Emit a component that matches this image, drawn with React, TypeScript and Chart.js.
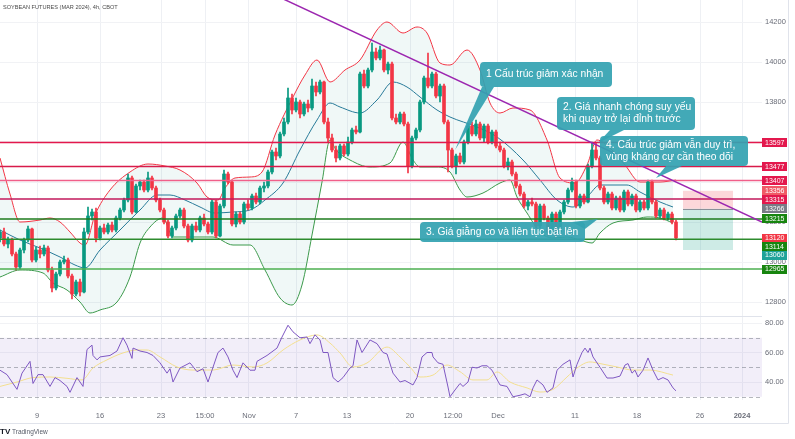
import React, { useEffect, useRef } from 'react';
import { Chart, registerables } from 'chart.js';

Chart.register(...registerables);

// Candles: [open, high, low, close], one per 4h bar (x = bar index)
const candlesOct: number[][] = [
  [13120, 13160, 13100, 13150], [13150, 13170, 13080, 13090], [13090, 13125, 13070, 13110], [13110, 13120, 13030, 13040],
  [13040, 13050, 12960, 12975], [12975, 13070, 12965, 13060], [13060, 13120, 13045, 13110], [13110, 13180, 13100, 13165],
  [13165, 13170, 13000, 13010], [13010, 13075, 13000, 13060], [13060, 13080, 13020, 13040], [13040, 13085, 13030, 13070],
  [13070, 13080, 12950, 12960], [12960, 12975, 12850, 12870], [12870, 12950, 12860, 12940], [12940, 13010, 12930, 13000],
  [13000, 13030, 12990, 13010], [13010, 13020, 12920, 12930], [12930, 12940, 12815, 12840], [12840, 12910, 12830, 12900],
  [12900, 12915, 12830, 12850], [12850, 13170, 12845, 13150], [13150, 13275, 13140, 13230], [13230, 13265, 13210, 13250],
  [13250, 13270, 13100, 13120], [13120, 13180, 13110, 13170], [13170, 13190, 13140, 13150], [13150, 13195, 13140, 13185],
  [13185, 13200, 13150, 13160], [13160, 13230, 13150, 13220], [13220, 13270, 13210, 13260], [13260, 13320, 13250, 13310],
  [13310, 13440, 13300, 13420], [13420, 13430, 13240, 13250], [13250, 13390, 13245, 13380], [13380, 13410, 13360, 13400],
  [13400, 13410, 13350, 13360], [13360, 13450, 13350, 13420], [13420, 13430, 13360, 13370], [13370, 13380, 13300, 13310],
  [13310, 13320, 13250, 13260], [13260, 13270, 13190, 13200], [13200, 13210, 13120, 13130], [13130, 13180, 13120, 13170],
  [13170, 13240, 13160, 13230], [13230, 13270, 13220, 13260], [13260, 13270, 13170, 13180], [13180, 13190, 13100, 13110],
  [13110, 13190, 13100, 13180], [13180, 13200, 13150, 13160], [13160, 13230, 13150, 13220], [13220, 13240, 13180, 13190],
  [13190, 13200, 13140, 13150], [13150, 13310, 13140, 13300], [13300, 13310, 13120, 13130], [13130, 13290, 13125, 13280],
  [13280, 13460, 13270, 13440], [13440, 13450, 13390, 13400], [13400, 13410, 13180, 13190], [13190, 13250, 13175, 13240],
  [13240, 13250, 13190, 13200], [13200, 13300, 13190, 13290],
];
const candlesNov: number[][] = [
  [13290, 13310, 13260, 13270], [13270, 13340, 13260, 13330], [13330, 13345, 13290, 13300], [13300, 13380, 13290, 13370],
  [13370, 13400, 13350, 13380], [13380, 13460, 13370, 13450], [13450, 13560, 13440, 13550], [13550, 13570, 13510, 13530],
  [13530, 13650, 13520, 13640], [13640, 13720, 13630, 13700], [13700, 13870, 13690, 13820], [13820, 13840, 13740, 13760],
  [13760, 13820, 13750, 13800], [13800, 13810, 13720, 13740], [13740, 13800, 13730, 13790], [13790, 13810, 13750, 13770],
  [13770, 13915, 13760, 13880], [13880, 13900, 13830, 13850], [13850, 13910, 13840, 13900], [13900, 13905, 13690, 13700],
  [13700, 13720, 13600, 13620], [13620, 13640, 13550, 13560], [13560, 13580, 13500, 13520], [13520, 13590, 13510, 13580],
  [13580, 13590, 13530, 13540], [13540, 13625, 13530, 13600], [13600, 13670, 13590, 13660], [13660, 13680, 13640, 13650],
  [13650, 13950, 13645, 13940], [13940, 13960, 13870, 13880], [13880, 13970, 13870, 13960], [13960, 14095, 13950, 14050],
  [14050, 14070, 14010, 14020], [14020, 14080, 14010, 14060], [14060, 14065, 13950, 13960], [13960, 14000, 13940, 13990],
  [13990, 14000, 13710, 13720], [13720, 13740, 13690, 13700], [13700, 13750, 13690, 13740], [13740, 13750, 13680, 13690],
  [13690, 13700, 13445, 13480], [13480, 13630, 13470, 13620], [13620, 13670, 13610, 13660], [13660, 13810, 13650, 13800],
  [13800, 13930, 13790, 13920], [13920, 14045, 13870, 13880], [13880, 13950, 13870, 13940], [13940, 13950, 13820, 13830],
  [13830, 13890, 13800, 13880], [13880, 13890, 13690, 13700], [13700, 13710, 13450, 13560], [13560, 13570, 13470, 13480],
  [13480, 13540, 13440, 13530], [13530, 13545, 13490, 13500], [13500, 13610, 13490, 13600], [13600, 13690, 13590, 13680],
  [13680, 13700, 13630, 13640], [13640, 13710, 13630, 13690], [13690, 13700, 13610, 13620], [13620, 13690, 13600, 13680],
  [13680, 13690, 13590, 13600], [13600, 13660, 13590, 13650], [13650, 13660, 13570, 13580],
];
const candlesDec: number[][] = [
  [13580, 13600, 13550, 13560], [13560, 13570, 13470, 13480], [13480, 13520, 13460, 13500], [13500, 13510, 13430, 13440],
  [13440, 13450, 13370, 13380], [13380, 13390, 13330, 13340], [13340, 13350, 13270, 13280], [13280, 13310, 13260, 13300],
  [13300, 13320, 13280, 13290], [13290, 13300, 13170, 13180], [13180, 13290, 13170, 13280], [13280, 13290, 13210, 13220],
  [13220, 13230, 13130, 13150], [13150, 13250, 13140, 13240], [13240, 13250, 13125, 13150], [13150, 13260, 13140, 13250],
  [13250, 13310, 13240, 13300], [13300, 13370, 13290, 13360], [13360, 13420, 13350, 13400], [13400, 13410, 13270, 13280],
  [13280, 13340, 13270, 13330], [13330, 13340, 13290, 13300], [13300, 13490, 13295, 13480], [13480, 13600, 13470, 13560],
  [13560, 13595, 13510, 13520], [13520, 13530, 13360, 13370], [13370, 13380, 13290, 13300], [13300, 13350, 13290, 13340],
  [13340, 13350, 13260, 13270], [13270, 13330, 13260, 13320], [13320, 13330, 13250, 13260], [13260, 13360, 13250, 13350],
  [13350, 13360, 13280, 13290], [13290, 13340, 13280, 13330], [13330, 13340, 13250, 13260], [13260, 13310, 13250, 13300],
  [13300, 13310, 13260, 13270], [13270, 13410, 13260, 13400], [13400, 13410, 13290, 13300], [13300, 13310, 13220, 13230],
  [13230, 13270, 13220, 13260], [13260, 13270, 13210, 13220], [13220, 13250, 13210, 13240], [13240, 13250, 13190, 13200],
  [13200, 13210, 13110, 13120],
];

// Bollinger bands: [bar index, price]
const bbUpper: number[][] = [
  [0, 13520], [2.5, 13340], [5, 13200], [10, 13210], [12.5, 13220], [15, 13200], [17.5, 13150], [20, 13095], [21.25, 13085],
  [23.75, 13235], [27.5, 13360], [32.5, 13450], [37, 13490], [41.25, 13480], [45, 13460], [49.25, 13395], [51.75, 13325],
  [54.5, 13310], [56.25, 13370], [58.75, 13420], [62.5, 13425], [65.5, 13450], [68.75, 13635], [73.25, 13825], [76.25, 13935],
  [79.25, 14010], [82.5, 13900], [86.25, 13960], [90, 14010], [94.25, 14160], [96.75, 14200], [100.75, 14145], [104.25, 14175],
  [106.75, 14145], [110, 13995], [112.5, 13985], [116.75, 14060], [120, 13960], [122.5, 13795], [125, 13745], [128.25, 13770],
  [132.5, 13760], [136.75, 13610], [140, 13420], [143.75, 13395], [146.75, 13485], [149.25, 13610], [152.5, 13570],
  [156.25, 13485], [160, 13400], [165, 13400], [169, 13410],
];
const bbMiddle: number[][] = [
  [0, 13160], [5, 13110], [10, 13070], [15, 13025], [18.75, 12985], [21.25, 12970], [25, 13060], [30, 13160], [35, 13260],
  [39.25, 13335], [42.5, 13335], [46.25, 13310], [50, 13275], [53.75, 13245], [58.25, 13250], [62.5, 13260], [66.25, 13310],
  [70.75, 13395], [75, 13560], [79.25, 13710], [82.5, 13795], [85, 13775], [90, 13745], [94.25, 13810], [98.25, 13900],
  [101.75, 13875], [105, 13825], [109.25, 13760], [112.5, 13725], [119.25, 13675], [124.25, 13625], [130.75, 13510],
  [135, 13410], [139.25, 13310], [143.25, 13275], [146.75, 13325], [150, 13385], [156.75, 13385], [160, 13350],
  [165, 13300], [168.25, 13275],
];
const bbLower: number[][] = [
  [0, 12925], [5, 12960], [10.75, 12945], [13.25, 12895], [16.75, 12860], [20, 12800], [22.5, 12745], [25, 12760],
  [29.25, 12800], [32.5, 12925], [35, 13095], [37.5, 13175], [40.75, 13220], [43.25, 13125], [48.25, 13125], [53.25, 13125],
  [58.25, 13085], [62.5, 13085], [66.25, 12960], [70, 12820], [73, 12785], [75.5, 12885], [78, 13135], [80.5, 13400],
  [82.5, 13610], [84, 13560], [87.5, 13510], [92.5, 13475], [97.5, 13495], [100.75, 13600], [103.25, 13510], [105, 13475],
  [109.25, 13475], [112.5, 13450], [115, 13360], [116.75, 13325], [120.75, 13345], [125, 13395], [127.5, 13410],
  [129.25, 13325], [131.75, 13245], [135, 13150], [138.25, 13120], [141.75, 13125], [145, 13110], [148, 13095],
  [150, 13145], [153.25, 13195], [158.25, 13210], [161.75, 13225], [165, 13220], [168.25, 13195],
];

// RSI and its moving average: [bar index, value]
const rsiLine: number[][] = [
  [0, 48], [1.75, 45], [4.25, 35], [5.5, 46], [7.5, 54], [8.25, 39], [9.5, 45], [10.75, 45], [12.5, 37], [13.75, 43],
  [15, 41], [16.75, 37], [17.5, 33], [19.25, 43], [20, 40], [20.75, 37], [21.75, 62], [23, 65], [23.25, 58], [24.25, 55],
  [25, 57], [27.5, 58], [29.25, 61], [30.75, 70], [31.75, 65], [33, 56], [33.25, 63], [35, 61], [36.75, 60], [38.25, 58],
  [40, 53], [41.75, 46], [42.5, 49], [43.25, 40], [45, 49.5], [47.5, 53], [49.25, 47], [50.75, 49], [52, 40], [53.25, 50],
  [54.5, 60], [55.75, 63], [57, 57], [58.25, 48], [59.25, 43], [60.75, 53], [62.5, 48], [63.75, 48], [64.25, 54],
  [66.75, 58], [69.25, 63], [70.5, 70.5], [72, 78.5], [73.25, 74], [75, 70], [76.75, 70.5], [77.5, 66], [78.75, 72],
  [80, 68.5], [80.75, 60], [82, 60], [83.25, 43], [84.5, 40], [85.75, 43], [87.5, 49.5], [88.25, 51], [89.25, 68.5],
  [90.5, 60], [92.5, 68.5], [94.25, 66], [95.75, 60], [96.75, 59], [98.25, 46], [100, 40], [101.25, 41], [103.25, 38],
  [104.25, 43], [105.5, 57], [106.75, 60], [108, 60], [108.25, 57], [109.5, 53], [110.75, 52], [112, 36.6], [112.5, 30],
  [113.75, 34.6], [115, 39], [115.75, 37], [117, 40], [118, 50], [119.25, 49.5], [120.5, 51], [121.75, 51], [123, 48],
  [125, 38], [126.75, 37], [128.25, 30], [130, 31], [131.25, 32], [132.5, 30], [133.25, 36], [134.25, 41.4], [135.75, 38],
  [136.75, 33], [138.25, 36], [139.25, 48], [140.75, 52], [142.5, 55], [143.25, 43.4], [144.25, 52], [145.5, 60],
  [146.25, 63], [147, 60], [147.5, 63], [148.25, 57], [150, 50], [151.75, 42.7], [153.25, 42.7], [155, 44], [156.25, 51.5],
  [157, 52.5], [158, 46], [158.75, 48], [159.5, 43.4], [160.75, 48], [162, 56.3], [163.25, 48], [164.5, 41.4], [165.75, 43],
  [167, 41.4], [168.25, 36], [169, 34],
];
const rsiMa: number[][] = [
  [0, 37], [4.25, 40], [8.25, 43], [12.5, 43.4], [16.75, 42.5], [20.5, 41.4], [23.25, 49.5], [26.75, 55], [30.75, 59.7],
  [34.25, 61.7], [36.75, 61.7], [40, 57], [44.25, 50.2], [48.25, 48.1], [53.25, 48.1], [58.25, 51.5], [63.25, 50.2],
  [66.75, 52.9], [70.75, 61.7], [75, 68.5], [79.25, 71.9], [82.5, 66.4], [85, 59.7], [88.25, 50.2], [91.75, 52.9],
  [96.75, 63.7], [100, 57], [102.5, 50.2], [105, 43.4], [108.25, 44.7], [111.75, 51.5], [115, 47], [118.25, 41.4],
  [121.75, 41.4], [124.25, 46.8], [127.5, 40], [131.75, 36], [135, 33.2], [138.25, 35], [141.75, 43.4], [144.25, 49.5],
  [147.5, 53.6], [150, 52.5], [154.25, 50.2], [158.25, 48.1], [162.5, 48.1], [168.25, 44.7],
];

// Axes
const xTickPos = [9.25, 25, 40.25, 51.25, 62.25, 74, 86.75, 102.5, 113.25, 124.5, 143.75, 159.25, 175, 185.5];
const xTickLabels = ['9', '16', '23', '15:00', 'Nov', '7', '13', '20', '12:00', 'Dec', '11', '18', '26', '2024'];
const priceTicks = [12800, 12900, 13000, 13100, 13200, 13300, 13400, 13500, 13600, 13700, 13800, 13900, 14000, 14100, 14200, 14300];
const rsiTicks = [40, 60, 80];
const rsiBands = [70, 50, 30];

// Drawn levels
const levelValues = [13597, 13477, 13407, 13315, 13215, 13114, 12965];
const levelColors = ['#e3184d', '#d81b4a', '#f0608a', '#c2185b', '#1e7b1e', '#2e8b2e', '#4caf50'];
const trendLine: number[][] = [[66, 14360], [190.5, 13200]];

// Axis price tags
const tagValues = [13597, 13477, 13407, 13356, 13315, 13266, 13215, 13120, 13114, 13060, 12965];
const tagColors = ['#e3184d', '#e3184d', '#e3184d', '#f05a66', '#e3184d', '#787b86', '#17850f', '#f23645', '#17850f', '#1fa39a', '#17850f'];

// Position tool (stop / entry / target) and its bar span
const posSpan = [170.75, 183.25];
const posStop = 13356;
const posEntry = 13266;
const posTarget = 13060;

// Callouts
const notes = [
  { x0: 120, x1: 153, top: 14000, bottom: 13875, lines: ['1 Cấu trúc giảm xác nhận'], tip: [[120.5, 13875], [123.5, 13875], [113.75, 13560]] },
  { x0: 139.25, x1: 173.75, top: 13825, bottom: 13660, lines: ['2. Giá nhanh chóng suy yếu', 'khi quay trở lại đỉnh trước'], tip: [[152.5, 13660], [156, 13660], [149.5, 13595]] },
  { x0: 105, x1: 146.25, top: 13200, bottom: 13100, lines: ['3. Giá giằng co và liên tục bật lên'], tip: [[143, 13200], [146.25, 13165], [149.5, 13215]] },
  { x0: 150, x1: 187, top: 13630, bottom: 13480, lines: ['4. Cấu trúc giảm vẫn duy trì,', 'vùng kháng cự cần theo dõi'], tip: [[166.5, 13480], [170.5, 13480], [164, 13420]] },
];

const FONT = "'Liberation Sans', Arial, sans-serif";
const UP = '#089981';
const DOWN = '#f23645';
const NOTE = 'rgba(52,163,178,0.93)';

const pts = (arr: number[][]) => arr.map(([x, y]) => ({ x, y }));

function rr(ctx: CanvasRenderingContext2D, x: number, y: number, w: number, h: number, r: number) {
  ctx.beginPath();
  ctx.moveTo(x + r, y);
  ctx.lineTo(x + w - r, y);
  ctx.quadraticCurveTo(x + w, y, x + w, y + r);
  ctx.lineTo(x + w, y + h - r);
  ctx.quadraticCurveTo(x + w, y + h, x + w - r, y + h);
  ctx.lineTo(x + r, y + h);
  ctx.quadraticCurveTo(x, y + h, x, y + h - r);
  ctx.lineTo(x, y + r);
  ctx.quadraticCurveTo(x, y, x + r, y);
  ctx.closePath();
}

const overlay = {
  id: 'overlay',
  beforeDatasetsDraw(chart: any) {
    const { ctx, chartArea: ca, scales } = chart;
    const x = scales.x, y = scales.y, r = scales.rsi;
    ctx.save();
    // RSI band
    const yt = r.getPixelForValue(70), yb = r.getPixelForValue(30);
    ctx.fillStyle = 'rgba(126,87,194,0.1)';
    ctx.fillRect(ca.left, yt, ca.right - ca.left, yb - yt);
    ctx.setLineDash([4, 3]);
    ctx.strokeStyle = 'rgba(120,123,134,0.55)';
    ctx.lineWidth = 1;
    for (const v of rsiBands) {
      const py = Math.round(r.getPixelForValue(v)) + 0.5;
      ctx.beginPath(); ctx.moveTo(ca.left, py); ctx.lineTo(ca.right, py); ctx.stroke();
    }
    ctx.setLineDash([]);
    // pane separator
    ctx.strokeStyle = '#e0e3eb';
    const sy = Math.round(r.top) + 0.5;
    ctx.beginPath(); ctx.moveTo(ca.left, sy); ctx.lineTo(ca.right, sy); ctx.stroke();
    // position tool
    const px0 = x.getPixelForValue(posSpan[0]), px1 = x.getPixelForValue(posSpan[1]);
    const ys = y.getPixelForValue(posStop), ye = y.getPixelForValue(posEntry), yg = y.getPixelForValue(posTarget);
    ctx.fillStyle = 'rgba(242,54,69,0.2)';
    ctx.fillRect(px0, ys, px1 - px0, ye - ys);
    ctx.fillStyle = 'rgba(8,153,129,0.2)';
    ctx.fillRect(px0, ye, px1 - px0, yg - ye);
    ctx.strokeStyle = 'rgba(120,123,134,0.8)';
    ctx.beginPath(); ctx.moveTo(px0, Math.round(ye) + 0.5); ctx.lineTo(px1, Math.round(ye) + 0.5); ctx.stroke();
    ctx.restore();
  },
  afterDatasetsDraw(chart: any) {
    const { ctx, scales } = chart;
    const x = scales.x, y = scales.y;
    ctx.save();
    for (const n of notes) {
      const l = x.getPixelForValue(n.x0), rgt = x.getPixelForValue(n.x1);
      const t = y.getPixelForValue(n.top), b = y.getPixelForValue(n.bottom);
      ctx.fillStyle = NOTE;
      ctx.beginPath();
      n.tip.forEach(([a, v], k) => {
        const px = x.getPixelForValue(a), py = y.getPixelForValue(v);
        if (k) ctx.lineTo(px, py); else ctx.moveTo(px, py);
      });
      ctx.closePath();
      ctx.fill();
      rr(ctx, l, t, rgt - l, b - t, 4);
      ctx.fill();
      ctx.fillStyle = '#ffffff';
      ctx.font = `10.3px ${FONT}`;
      ctx.textBaseline = 'middle';
      ctx.textAlign = 'left';
      const cy = (t + b) / 2;
      n.lines.forEach((s, k) => {
        ctx.fillText(s, l + 6, cy + (k - (n.lines.length - 1) / 2) * 12);
      });
    }
    ctx.restore();
  },
  afterDraw(chart: any) {
    const { ctx, chartArea: ca, scales } = chart;
    const y = scales.y;
    ctx.save();
    // price tags on the axis
    const items = tagValues.map((v, i) => ({ v, i, py: y.getPixelForValue(v) })).sort((a, b) => a.py - b.py);
    let prev = -Infinity;
    for (const it of items) {
      if (it.py < prev + 8.5) it.py = prev + 8.5;
      prev = it.py;
    }
    ctx.font = `7px ${FONT}`;
    ctx.textBaseline = 'middle';
    ctx.textAlign = 'left';
    for (const it of items) {
      ctx.fillStyle = tagColors[it.i];
      ctx.fillRect(ca.right, Math.round(it.py - 4.5), 25, 9);
      ctx.fillStyle = '#ffffff';
      ctx.fillText(String(it.v), ca.right + 3, it.py + 0.5);
    }
    // frame
    ctx.strokeStyle = '#e0e3eb';
    ctx.lineWidth = 1;
    ctx.beginPath();
    ctx.moveTo(788.5, 0); ctx.lineTo(788.5, 423.5); ctx.lineTo(0, 423.5);
    ctx.stroke();
    // title
    ctx.fillStyle = '#4a4a4a';
    ctx.font = `5.6px ${FONT}`;
    ctx.fillText('SOYBEAN FUTURES (MAR 2024), 4h, CBOT', 3, 7);
    // logo
    ctx.fillStyle = '#131722';
    ctx.font = `bold 8px ${FONT}`;
    ctx.fillText('TV', 0, 432);
    ctx.fillStyle = '#555a66';
    ctx.font = `6.5px ${FONT}`;
    ctx.fillText('TradingView', 12, 432);
    ctx.restore();
  },
};

const noPad = (s: any) => { s.paddingTop = 0; s.paddingBottom = 0; s.paddingLeft = 0; s.paddingRight = 0; };

export default function App() {
  const ref = useRef<HTMLCanvasElement>(null);
  useEffect(() => {
    document.body.style.margin = '0';
    const candles = [...candlesOct, ...candlesNov, ...candlesDec];
    const colors = candles.map((c) => (c[3] >= c[0] ? UP : DOWN));
    const lineBase = { type: 'line', pointRadius: 0, borderWidth: 1, fill: false, yAxisID: 'y' };
    const datasets: any[] = [
      { ...lineBase, label: 'bbUpper', data: pts(bbUpper), borderColor: '#f23645', cubicInterpolationMode: 'monotone', fill: '+1', backgroundColor: 'rgba(0,137,123,0.06)', order: 10 },
      { ...lineBase, label: 'bbLower', data: pts(bbLower), borderColor: '#3d9a4a', cubicInterpolationMode: 'monotone', order: 10 },
      { ...lineBase, label: 'bbMiddle', data: pts(bbMiddle), borderColor: '#2b7a9b', cubicInterpolationMode: 'monotone', order: 10 },
      { type: 'bar', label: 'wick', data: candles.map((c, i) => ({ x: i, y: [c[2], c[1]] })), backgroundColor: colors, barThickness: 1, grouped: false, yAxisID: 'y', order: 2 },
      { type: 'bar', label: 'body', data: candles.map((c, i) => ({ x: i, y: [c[0], c[3]] })), backgroundColor: colors, barThickness: 3, grouped: false, yAxisID: 'y', order: 1 },
      ...levelValues.map((v, i) => ({ ...lineBase, label: 'lvl' + v, data: [{ x: 0, y: v }, { x: 190.5, y: v }], borderColor: levelColors[i], borderWidth: 1.5, order: -1 })),
      { ...lineBase, label: 'trend', data: pts(trendLine), borderColor: '#9c27b0', borderWidth: 1.5, order: -2 },
      { ...lineBase, label: 'rsi', data: pts(rsiLine), borderColor: '#7e57c2', yAxisID: 'rsi', order: 3 },
      { ...lineBase, label: 'rsiMa', data: pts(rsiMa), borderColor: '#f3df8f', cubicInterpolationMode: 'monotone', yAxisID: 'rsi', order: 4 },
    ];
    const tickFont = { family: FONT, size: 7.5 };
    const chart = new Chart(ref.current as HTMLCanvasElement, {
      type: 'bar',
      data: { datasets },
      options: {
        responsive: false,
        animation: false,
        devicePixelRatio: 1,
        layout: { padding: { left: 0, top: 0, right: 7, bottom: 16 }, autoPadding: false },
        plugins: { legend: { display: false }, tooltip: { enabled: false } },
        scales: {
          x: {
            type: 'linear', position: 'bottom', min: 0, max: 190.5, offset: false,
            afterFit: (s: any) => { s.height = 23; noPad(s); },
            afterBuildTicks: (s: any) => { s.ticks = xTickPos.map((v) => ({ value: v })); },
            ticks: {
              autoSkip: false, maxRotation: 0, padding: 11, color: '#6a6d78',
              font: (c: any) => ({ ...tickFont, weight: c.index === xTickLabels.length - 1 ? 'bold' : 'normal' }),
              callback: (_v: any, i: number) => xTickLabels[i],
            },
            grid: { color: '#eef0f4', drawTicks: false, offset: false },
            border: { display: false },
          },
          y: {
            type: 'linear', position: 'right', stack: 'pane', stackWeight: 316, min: 12730, max: 14310,
            afterFit: (s: any) => { s.width = 26; noPad(s); },
            afterBuildTicks: (s: any) => { s.ticks = priceTicks.map((v) => ({ value: v })); },
            ticks: { padding: 3, color: '#6a6d78', font: tickFont, callback: (v: any) => String(v) },
            grid: { color: '#f1f2f5', drawTicks: false },
            border: { display: false },
          },
          rsi: {
            type: 'linear', position: 'right', stack: 'pane', stackWeight: 84, min: 27.8, max: 84.75,
            afterFit: (s: any) => { s.width = 26; noPad(s); },
            afterBuildTicks: (s: any) => { s.ticks = rsiTicks.map((v) => ({ value: v })); },
            ticks: { padding: 3, color: '#6a6d78', font: tickFont, callback: (v: any) => Number(v).toFixed(2) },
            grid: { color: '#f1f2f5', drawTicks: false },
            border: { display: false },
          },
        },
      } as any,
      plugins: [overlay],
    });
    return () => chart.destroy();
  }, []);
  return (
    <div style={{ width: 795, height: 439 }}>
      <canvas ref={ref} width={795} height={439} style={{ display: 'block' }} />
    </div>
  );
}
